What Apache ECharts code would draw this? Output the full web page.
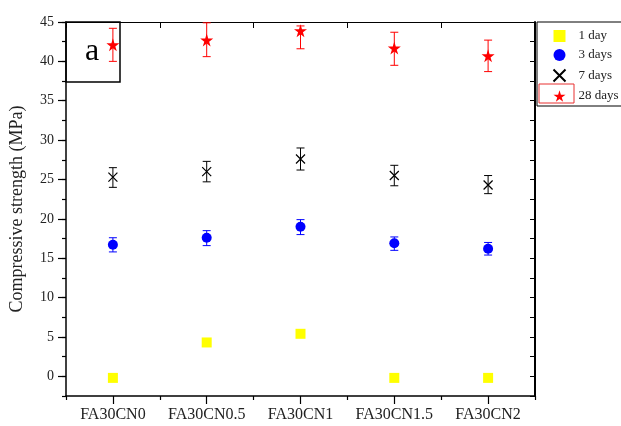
<!DOCTYPE html>
<html>
<head>
<meta charset="utf-8">
<script src="https://cdn.jsdelivr.net/npm/echarts@6/dist/echarts.min.js"></script>
<style>
  html, body { margin: 0; padding: 0; background: #fff; }
  #chart { width: 621px; height: 426px; }
</style>
</head>
<body>
<div id="chart"></div>
<script>
// data
var categories = ['FA30CN0', 'FA30CN0.5', 'FA30CN1', 'FA30CN1.5', 'FA30CN2'];
var day1 = [-0.2, 4.3, 5.4, -0.2, -0.2];
var day3 = [16.7, 17.6, 19.0, 16.9, 16.2];
var day3Lo = [15.8, 16.6, 18.0, 16.0, 15.4];
var day3Hi = [17.6, 18.5, 19.9, 17.7, 17.0];
var day7 = [25.3, 26.0, 27.6, 25.5, 24.3];
var day7Lo = [24.0, 24.7, 26.2, 24.2, 23.2];
var day7Hi = [26.5, 27.3, 29.0, 26.8, 25.5];
var day28 = [42.1, 42.7, 43.9, 41.7, 40.7];
var day28Lo = [40.0, 40.6, 41.6, 39.5, 38.7];
var day28Hi = [44.2, 44.9, 44.5, 43.7, 42.7];
var yLabels = [0, 5, 10, 15, 20, 25, 30, 35, 40, 45];

var serif = '"Liberation Serif", "DejaVu Serif", serif';
var xPath = 'path://M0,0L10,10M10,0L0,10';
var starPath = 'path://M50,0L61,35L98,35L68,57L79,91L50,70L21,91L32,57L2,35L39,35Z';

function bars(lo, hi) {
    return lo.map(function (v, i) { return [i, v, hi[i]]; });
}

function errorBar(color) {
    return function (params, api) {
        var x = api.value(0);
        var lo = api.coord([x, api.value(1)]);
        var hi = api.coord([x, api.value(2)]);
        var w = 4;
        var st = { stroke: color, lineWidth: 1 };
        return {
            type: 'group',
            children: [
                { type: 'line', shape: { x1: lo[0], y1: lo[1], x2: hi[0], y2: hi[1] }, style: st },
                { type: 'line', shape: { x1: lo[0] - w, y1: lo[1], x2: lo[0] + w, y2: lo[1] }, style: st },
                { type: 'line', shape: { x1: hi[0] - w, y1: hi[1], x2: hi[0] + w, y2: hi[1] }, style: st }
            ]
        };
    };
}

var chart = echarts.init(document.getElementById('chart'));
var option = {
    animation: false,
    grid: { left: 66, right: 86, top: 22, bottom: 30 },
    xAxis: [
        {
            type: 'category', data: categories, position: 'bottom',
            axisLine: { onZero: false, lineStyle: { color: '#000', width: 1.5 } },
            axisTick: { show: true, interval: 0, length: 4, lineStyle: { color: '#000', width: 1.2 } },
            axisLabel: { interval: 0, fontFamily: serif, fontSize: 16, color: '#222', margin: 11 }
        },
        {
            type: 'category', data: categories, position: 'bottom',
            axisLine: { show: false, onZero: false },
            axisTick: { show: true, interval: 0, alignWithLabel: true, length: 8, lineStyle: { color: '#000', width: 1.2 } },
            axisLabel: { show: false }
        },
        {
            type: 'category', data: categories, position: 'top',
            axisLine: { onZero: false, lineStyle: { color: '#000', width: 1 } },
            axisTick: { show: true, interval: 0, inside: true, length: 6, lineStyle: { color: '#000' } },
            axisLabel: { show: false }
        }
    ],
    yAxis: [
        {
            type: 'value', min: -2.5, max: 45, interval: 2.5, position: 'left',
            name: 'Compressive strength (MPa)', nameLocation: 'middle', nameGap: 40,
            nameTextStyle: { fontFamily: serif, fontSize: 18, color: '#222' },
            splitLine: { show: false },
            axisLine: { show: true, lineStyle: { color: '#000', width: 1.5 } },
            axisTick: { show: true, length: 4, lineStyle: { color: '#000', width: 1.2 } },
            axisLabel: { customValues: yLabels, fontFamily: serif, fontSize: 14, color: '#222', margin: 12 }
        },
        {
            type: 'value', min: -2.5, max: 45, interval: 2.5, position: 'left',
            splitLine: { show: false },
            axisLine: { show: false },
            axisTick: { show: true, customValues: yLabels, length: 8, lineStyle: { color: '#000', width: 1.2 } },
            axisLabel: { show: false }
        },
        {
            type: 'value', min: -2.5, max: 45, interval: 2.5, position: 'right',
            splitLine: { show: false },
            axisLine: { show: true, lineStyle: { color: '#000', width: 2 } },
            axisTick: { show: true, inside: true, length: 5, lineStyle: { color: '#000' } },
            axisLabel: { show: false }
        }
    ],
    legend: {
        orient: 'vertical', left: 551, top: 29, padding: 0, itemGap: 5,
        itemWidth: 12, itemHeight: 12,
        textStyle: { fontFamily: serif, fontSize: 13, lineHeight: 14, color: '#222', padding: [0, 0, 0, 8] },
        data: [
            { name: '1 day', icon: 'rect' },
            { name: '3 days', icon: 'circle' },
            { name: '7 days', icon: xPath },
            { name: '28 days', icon: starPath }
        ]
    },
    graphic: [
        { type: 'rect', shape: { x: 537, y: 22, width: 120, height: 84 }, style: { fill: 'none', stroke: '#000', lineWidth: 1 } },
        { type: 'rect', shape: { x: 539, y: 84, width: 35, height: 19 }, style: { fill: 'none', stroke: '#e83030', lineWidth: 1 } },
        { type: 'rect', shape: { x: 66, y: 22, width: 54, height: 60 }, style: { fill: 'none', stroke: '#000', lineWidth: 1.5 } },
        { type: 'text', x: 92, y: 52, style: { text: 'a', font: '32px ' + serif, fill: '#000', align: 'center', verticalAlign: 'middle' } }
    ],
    series: [
        { type: 'custom', renderItem: errorBar('#0000ff'), data: bars(day3Lo, day3Hi), encode: { x: 0, y: [1, 2] }, silent: true },
        { type: 'custom', renderItem: errorBar('#000'), data: bars(day7Lo, day7Hi), encode: { x: 0, y: [1, 2] }, silent: true },
        { type: 'custom', renderItem: errorBar('#ff0000'), data: bars(day28Lo, day28Hi), encode: { x: 0, y: [1, 2] }, silent: true },
        { name: '1 day', type: 'scatter', data: day1, symbol: 'rect', symbolSize: 10, itemStyle: { color: '#ffff00', opacity: 1 } },
        { name: '3 days', type: 'scatter', data: day3, symbol: 'circle', symbolSize: 10, itemStyle: { color: '#0000ff', opacity: 1 } },
        { name: '7 days', type: 'scatter', data: day7, symbol: xPath, symbolSize: 9, itemStyle: { color: 'none', borderColor: '#000', borderWidth: 1.2, opacity: 1 } },
        { name: '28 days', type: 'scatter', data: day28, symbol: starPath, symbolSize: 13, itemStyle: { color: '#ff0000', opacity: 1 } }
    ]
};
chart.setOption(option);
</script>
</body>
</html>
